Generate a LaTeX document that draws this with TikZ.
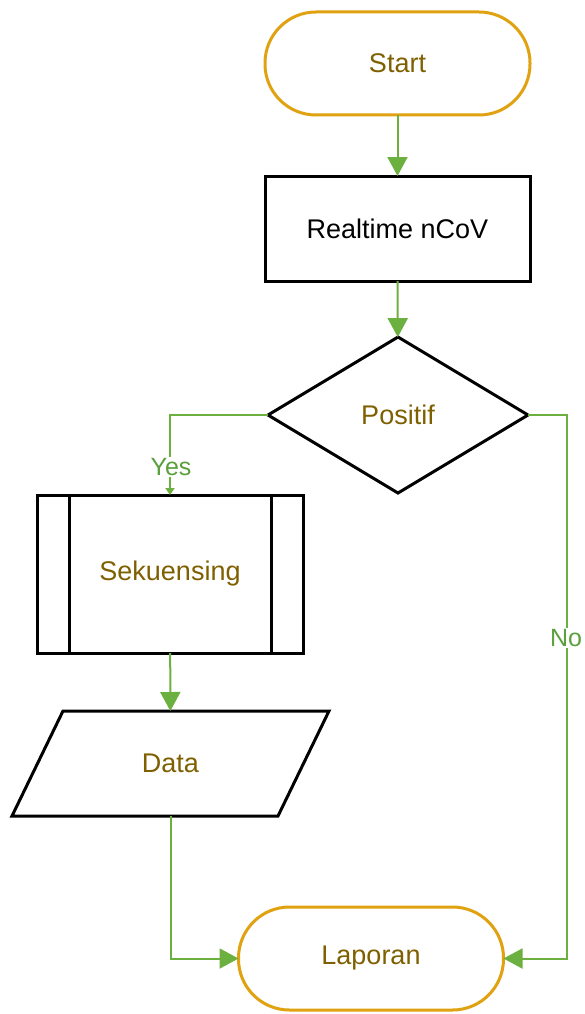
\documentclass[tikz,border=0pt]{standalone}
\usepackage{fontspec}
\setmainfont{Liberation Sans}
\usetikzlibrary{arrows.meta,shapes.geometric}
\definecolor{termorange}{RGB}{224,162,16}
\definecolor{txtbrown}{RGB}{127,96,0}
\definecolor{flowgreen}{RGB}{108,176,64}
\definecolor{lblgreen}{RGB}{90,160,60}
\begin{document}
\begin{tikzpicture}[x=1pt,y=-1pt,
  font=\fontsize{27}{32}\selectfont,
  term/.style={draw=termorange, line width=3pt, rounded corners=51pt, minimum width=265pt, minimum height=103pt, text=txtbrown, outer sep=0pt, inner sep=0pt},
  procbox/.style={draw=black, line width=3pt, minimum width=265pt, minimum height=105pt, outer sep=0pt},
  decision/.style={diamond, draw=black, line width=3pt, minimum width=260pt, minimum height=156pt, inner sep=0pt, outer sep=0pt, text=txtbrown},
  flow/.style={draw=flowgreen, line width=2pt, -{Triangle[length=19pt,width=20pt]}},
  smallflow/.style={draw=flowgreen, line width=2pt, -{Triangle[length=7pt,width=9pt]}},
  lbl/.style={fill=white, text=lblgreen, font=\fontsize{25}{30}\selectfont, inner sep=1pt}
]
\useasboundingbox (0,0) rectangle (585,1014);
\fill[white] (0,0) rectangle (585,1014);

\node[term] (start) at (397.5,63.5) {Start};
\node[procbox] (rt) at (397.5,228.5) {Realtime nCoV};
\node[decision] (pos) at (398,415) {Positif};
\node[procbox, minimum width=266pt, minimum height=158pt, text=txtbrown] (seq) at (170,574) {Sekuensing};
\draw[line width=3pt] ([xshift=32pt]seq.north west) -- ([xshift=32pt]seq.south west);
\draw[line width=3pt] ([xshift=-32pt]seq.north east) -- ([xshift=-32pt]seq.south east);
\node[minimum width=266pt, minimum height=105pt, outer sep=0pt, text=txtbrown] (data) at (170.5,763.5) {Data};
\draw[line width=3pt, line join=miter] ([xshift=25.5pt]data.north west) -- ([xshift=25.5pt]data.north east)
  -- ([xshift=-25.5pt]data.south east) -- ([xshift=-25.5pt]data.south west) -- cycle;
\node[term] (lap) at (371,958.5) {Laporan};
\coordinate (nocorner) at (567,415);

\draw[flow] (start) -- (rt);
\draw[flow] (rt) -- (pos);
\draw[smallflow] (pos.west) -| (seq.north);
\draw[flow] (seq) -- (data);
\draw[flow] (data.south) |- (lap.west);
\draw[flow] (pos.east) -- (nocorner) |- (lap.east);

\node[lbl] (yes) at (171,467) {Yes};
\node[lbl] (no) at (566,638) {No};
\end{tikzpicture}
\end{document}
